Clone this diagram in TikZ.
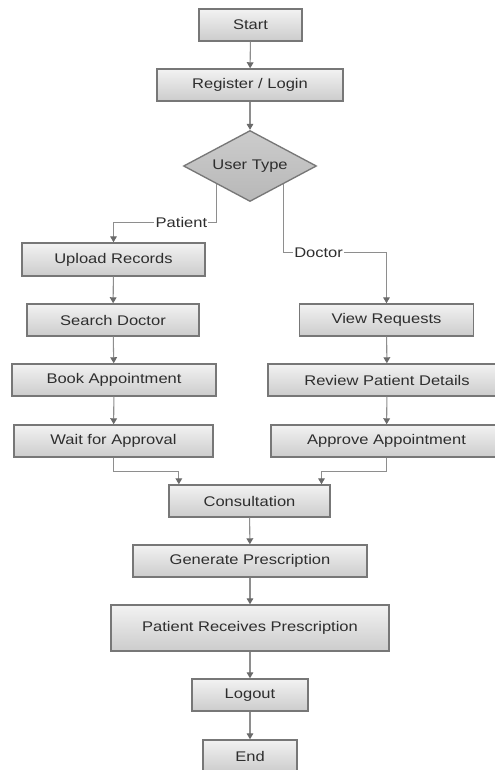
\documentclass[tikz,border=0pt]{standalone}
\usepackage{fontspec}
\setmainfont{Liberation Sans}[FakeStretch=1.18]
\usetikzlibrary{shapes.geometric,arrows.meta}
\definecolor{linec}{HTML}{8E8E8E}
\definecolor{tipc}{HTML}{6A6A6A}
\definecolor{bordc}{HTML}{777777}
\definecolor{txtc}{HTML}{2E2E2E}
\tikzset{
  x=0.75pt, y=-0.75pt,
  wh/.style 2 args={minimum width=#1*0.75pt, minimum height=#2*0.75pt},
  box/.style={rectangle, draw=bordc, line width=1.1pt, top color=black!5, bottom color=black!20,
    inner sep=0pt, text=txtc, font=\fontsize{10.5}{12}\selectfont},
  decision/.style={diamond, draw=bordc, line width=1pt, top color=black!20, bottom color=black!28,
    inner sep=0pt, aspect=1.87, text=txtc, font=\fontsize{10.5}{12}\selectfont},
  conn/.style={draw=linec, line width=0.8pt, -{Triangle[length=4.5pt,width=5pt,color=tipc]}},
  lbl/.style={fill=white, inner sep=1pt, text=txtc, font=\fontsize{10.5}{12}\selectfont}
}
\begin{document}
\begin{tikzpicture}
\useasboundingbox (0,0) rectangle (495,770);
\fill[white] (0,0) rectangle (495,770);

\node[box, wh={103}{32}] (start) at (250.5,25) {Start};
\node[box, wh={186}{32}] (reg) at (250,85) {Register / Login};
\node[decision, minimum width=133*0.75pt, minimum height=71*0.75pt] (dia) at (250,166) {User Type};

\node[box, wh={183}{33}] (upl) at (113.5,259.5) {Upload Records};
\node[box, wh={172}{32}] (srch) at (113,320) {Search Doctor};
\node[box, wh={204}{32}] (book) at (114,380) {Book Appointment};
\node[box, wh={199}{32}] (wait) at (113.5,441) {Wait for Approval};

\node[box, wh={174}{32}] (view) at (386.5,320) {View Requests};
\node[box, wh={238}{32}] (rev) at (387,380) {Review Patient Details};
\node[box, wh={231}{32}] (appr) at (386.5,441) {Approve Appointment};

\node[box, wh={161}{32}] (cons) at (249.5,501) {Consultation};
\node[box, wh={234}{32}] (gen) at (250,561) {Generate Prescription};
\node[box, wh={278}{46}] (prp) at (250,628) {Patient Receives Prescription};
\node[box, wh={116}{32}] (logout) at (250,695) {Logout};
\node[box, wh={94}{32}] (end) at (250,756) {End};

\draw[conn] (start) -- (reg);
\draw[conn] (reg) -- (dia);
\draw[conn] (dia.south west) |- node[lbl, pos=0.67] {Patient} ([yshift=15pt]upl.north) -- (upl.north);
\draw[conn] (dia.south east) |- node[lbl, pos=0.67] {Doctor} ([yshift=38pt]view.north) -- (view.north);
\draw[conn] (upl) -- (srch);
\draw[conn] (srch) -- (book);
\draw[conn] (book) -- (wait);
\draw[conn] (view) -- (rev);
\draw[conn] (rev) -- (appr);
\draw[conn] (wait.south) -- ++(0,14) -| ([xshift=-53pt]cons.north);
\draw[conn] (appr.south) -- ++(0,14) -| ([xshift=54pt]cons.north);
\draw[conn] (cons) -- (gen);
\draw[conn] (gen) -- (prp);
\draw[conn] (prp) -- (logout);
\draw[conn] (logout) -- (end);
\end{tikzpicture}
\end{document}
